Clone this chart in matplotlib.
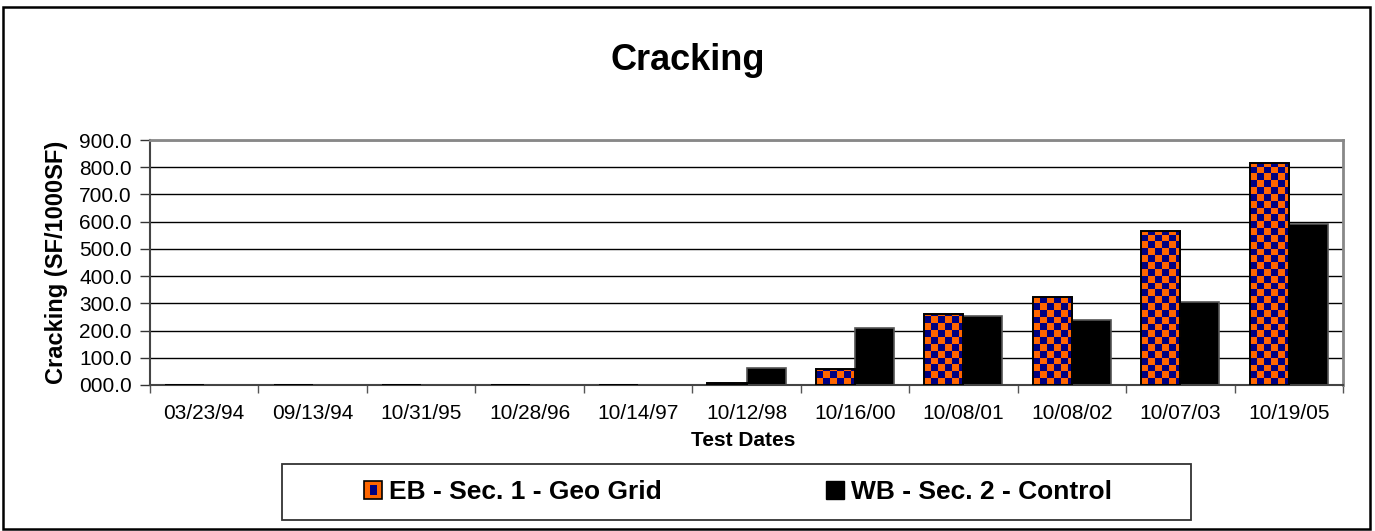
import numpy as np
import matplotlib
matplotlib.use("Agg")
import matplotlib.pyplot as plt
from matplotlib.colors import ListedColormap
from matplotlib.patches import Rectangle, Patch
from matplotlib.legend_handler import HandlerBase

plt.rcParams["font.family"] = ["Liberation Sans", "DejaVu Sans"]

test_dates = ["03/23/94", "09/13/94", "10/31/95", "10/28/96", "10/14/97", "10/12/98",
              "10/16/00", "10/08/01", "10/08/02", "10/07/03", "10/19/05"]
eb_geo_grid = [0, 0, 0, 0, 0, 6, 60, 262, 325, 567, 817]
wb_control = [0, 0, 0, 0, 0, 61, 210, 255, 240, 306, 591]
series_names = ["EB - Sec. 1 - Geo Grid", "WB - Sec. 2 - Control"]

orange = "#FF6600"
navy = "#000080"

W, H = 1375, 531
fig = plt.figure(figsize=(W / 100, H / 100), dpi=100)
ax = fig.add_axes([150 / W, 1 - 385 / H, (1343 - 150) / W, (385 - 140) / H])

x = np.arange(len(test_dates))
bw = 0.36

eb_bars = ax.bar(x - bw / 2, eb_geo_grid, bw, color=orange, edgecolor="none", zorder=2)
ax.bar(x + bw / 2, wb_control, bw, color="black", edgecolor="#555555", linewidth=1.2, zorder=2)

# checkerboard fill for the geo grid bars
cmap = ListedColormap([orange, navy])
cell_w, cell_h = 0.063, 25.0
for rect in eb_bars:
    x0, y0 = rect.get_x(), rect.get_y()
    w, h = rect.get_width(), rect.get_height()
    if h <= 0:
        continue
    nx = int(np.ceil(w / cell_w))
    ny = int(np.ceil(h / cell_h))
    board = np.indices((ny, nx)).sum(axis=0) % 2
    img = ax.imshow(board, cmap=cmap, origin="lower", interpolation="nearest", aspect="auto",
                    extent=(x0, x0 + nx * cell_w, y0, y0 + ny * cell_h), zorder=2.5)
    img.set_clip_path(rect)
ax.bar(x - bw / 2, eb_geo_grid, bw, fill=False, edgecolor="black", linewidth=1.4, zorder=3)

ax.set_xlim(-0.5, len(test_dates) - 0.5)
ax.set_ylim(0, 900)
ax.set_aspect("auto")

ax.set_yticks(np.arange(0, 901, 100))
ax.set_yticklabels([f"{v:05.1f}" for v in range(0, 901, 100)])
ax.tick_params(axis="y", direction="out", length=7, width=1, labelsize=15, pad=6, color="#333333")

ax.set_xticks(np.arange(-0.5, len(test_dates)), minor=False)
ax.set_xticklabels([])
ax.set_xticks(x, minor=True)
ax.set_xticklabels(test_dates, minor=True)
ax.tick_params(axis="x", which="major", direction="out", length=6, width=1, color="#555555")
ax.tick_params(axis="x", which="minor", length=0, labelsize=15, pad=14)

ax.set_axisbelow(True)
ax.yaxis.grid(True, color="black", linewidth=1)
for side in ["top", "right"]:
    ax.spines[side].set_color("#888888")
    ax.spines[side].set_linewidth(2)
for side in ["left", "bottom"]:
    ax.spines[side].set_color("#444444")
    ax.spines[side].set_linewidth(1.5)

fig.text(688 / W, 1 - 60 / H, "Cracking", fontsize=26, fontweight="bold", ha="center", va="center")
fig.text(56 / W, 1 - 262 / H, "Cracking (SF/1000SF)", fontsize=17, fontweight="bold",
         rotation=90, ha="center", va="center")
fig.text(743 / W, 1 - 440 / H, "Test Dates", fontsize=15, fontweight="bold", ha="center", va="center")


class CheckerHandler(HandlerBase):
    def create_artists(self, legend, orig_handle, xdescent, ydescent, width, height, fontsize, trans):
        outer = Rectangle((-xdescent, -ydescent), width, height, facecolor=orange,
                          edgecolor="black", linewidth=1.2, transform=trans)
        inner = Rectangle((-xdescent + width * 0.3, -ydescent + height * 0.22), width * 0.4, height * 0.56,
                          facecolor=navy, edgecolor="none", transform=trans)
        return [outer, inner]


eb_handle = Patch(facecolor=orange)
wb_handle = Patch(facecolor="black", edgecolor="black")
fig.legend([eb_handle, wb_handle], series_names, ncol=2, frameon=False,
           loc="center", bbox_to_anchor=(738 / W, 1 - 492 / H),
           prop={"size": 19, "weight": "bold"}, handlelength=0.68, handleheight=0.68,
           handletextpad=0.27, columnspacing=6.2,
           handler_map={eb_handle: CheckerHandler()})

fig.add_artist(Rectangle((282 / W, 1 - 520 / H), (1191 - 282) / W, (520 - 464) / H,
                         transform=fig.transFigure, fill=False, edgecolor="#333333", linewidth=1.3))
fig.add_artist(Rectangle((3 / W, 1 - 529 / H), (1370 - 3) / W, (529 - 7) / H,
                         transform=fig.transFigure, fill=False, edgecolor="black", linewidth=1.8))

fig.savefig("out.png", dpi=100)
